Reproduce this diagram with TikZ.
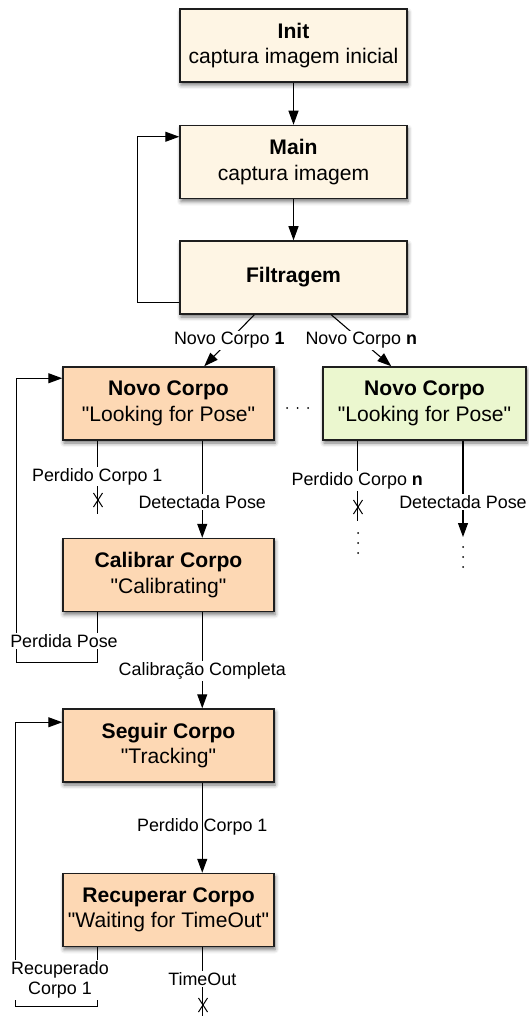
\documentclass[tikz,border=0pt]{standalone}
\usepackage{fontspec}
\setmainfont{Liberation Sans}[Ligatures=TeXOff]
\usetikzlibrary{arrows.meta,shadows.blur}
\definecolor{cream}{HTML}{FEF5E4}
\definecolor{peach}{HTML}{FDD8B4}
\definecolor{lgreen}{HTML}{EBF7CF}
\definecolor{edge}{HTML}{1E1E1E}
\tikzset{
  box/.style={draw=edge, line width=1.5pt, minimum height=73pt, align=center, inner sep=0pt,
    font=\fontsize{21.1}{25.5}\selectfont,
    blur shadow={shadow xshift=1pt, shadow yshift=-3pt, shadow blur radius=4pt, shadow opacity=55}},
  topbox/.style={box, fill=cream, minimum width=227pt},
  subbox/.style={box, fill=peach, minimum width=211pt},
  greenbox/.style={box, fill=lgreen, minimum width=203pt},
  ln/.style={line width=1.1pt, draw=black},
  arr/.style={ln, -{Triangle[length=14pt,width=10pt]}},
  lbl/.style={fill=white, inner sep=1.5pt, align=center, font=\fontsize{17.9}{20.5}\selectfont},
  lblnf/.style={lbl, fill=none},
  xmark/.pic={\draw[line width=1pt] (-4.5,-7) -- (4.5,7) (-4.5,7) -- (4.5,-7);},
  vdot/.style={fill=black, draw=none, circle, inner sep=0pt, minimum size=2pt}
}
\begin{document}
\begin{tikzpicture}[x=1pt,y=-1pt]
\useasboundingbox (0,0) rectangle (528,1016);

% top boxes
\node[topbox] (init) at (293.5,45.5) {\textbf{Init}\\captura imagem inicial};
\node[topbox] (main) at (293.5,162) {\textbf{Main}\\captura imagem};
\node[topbox] (filt) at (293.5,277.5) {\textbf{Filtragem}};

% body boxes
\node[subbox] (nc1) at (168.5,403.5) {\textbf{Novo Corpo}\\"Looking for Pose"};
\node[greenbox] (ncn) at (424.5,403.5) {\textbf{Novo Corpo}\\"Looking for Pose"};
\node[subbox] (cal) at (168.5,575) {\textbf{Calibrar Corpo}\\"Calibrating"};
\node[subbox] (seg) at (168.5,745.5) {\textbf{Seguir Corpo}\\"Tracking"};
\node[subbox] (rec) at (168.5,910) {\textbf{Recuperar Corpo}\\"Waiting for TimeOut"};

% main chain
\draw[arr] (init) -- (main);
\draw[arr] (main) -- (filt);
\draw[arr] ([yshift=12pt]filt.south west) -- ++(-42,0) |- ([yshift=-12pt]main.north west);

% branches from Filtragem
\draw[arr] ([xshift=75pt]filt.south west) -- ([xshift=142pt]nc1.north west)
  node[lbl, pos=0.5] (l1) {Novo Corpo \textbf{1}};
\draw[arr] ([xshift=152pt]filt.south west) -- ([xshift=69pt]ncn.north west)
  node[lbl, pos=0.5] (ln) {Novo Corpo \textbf{n}};

% dots between boxes
\node[vdot] (h1) at (287,408) {};
\node[vdot] (h2) at (297.5,408) {};
\node[vdot] (h3) at (308,408) {};

% Novo Corpo 1
\draw[ln] ([xshift=35pt]nc1.south west) -- ++(0,73) coordinate (e1)
  node[lbl, pos=0.49] (lpc1) {Perdido Corpo 1};
\pic at (98,500) {xmark};
\draw[arr] ([xshift=140pt]nc1.south west) -- ([xshift=140pt]cal.north west)
  node[lbl, pos=0.63] (ldp) {Detectada Pose};

% Novo Corpo n
\draw[ln] ([xshift=35pt]ncn.south west) -- ++(0,80) coordinate (en)
  node[lbl, pos=0.5] (lpcn) {Perdido Corpo \textbf{n}};
\pic at (358,507) {xmark};
\node[vdot] (a1) at (358,533) {};
\node[vdot] (a2) at (358,543) {};
\node[vdot] (a3) at (358,553) {};
\coordinate (dn) at (463,537);
\draw[arr] (ncn.south -| dn) -- (dn)
  node[lbl, pos=0.64] (ldpn) {Detectada Pose};
\node[vdot] (b1) at (463,547) {};
\node[vdot] (b2) at (463,557) {};
\node[vdot] (b3) at (463,567) {};

% Calibrar
\draw[arr] ([xshift=35pt]cal.south west) -- ++(0,50) -- ++(-81,0) |- ([yshift=-12pt]nc1.north west);
\node[lbl] (lpp) at (64,641) {Perdida Pose};
\draw[arr] ([xshift=140pt]cal.south west) -- ([xshift=140pt]seg.north west)
  node[lbl, pos=0.61] (lcc) {Calibração Completa};

% Seguir
\draw[arr] ([xshift=140pt]seg.south west) -- ([xshift=140pt]rec.north west)
  node[lblnf, pos=0.49] (lpc) {Perdido Corpo 1};

% Recuperar
\draw[arr] ([xshift=35pt]rec.south west) -- ++(0,59) -- ++(-82,0) |- ([yshift=-14pt]seg.north west);
\node[lbl] (lrc) at (60,980) {Recuperado\\Corpo 1};
\draw[ln] ([xshift=140pt]rec.south west) -- ++(0,72) coordinate (et)
  node[lbl, pos=0.44] (lto) {TimeOut};
\pic at (203,1005) {xmark};
\end{tikzpicture}
\end{document}
